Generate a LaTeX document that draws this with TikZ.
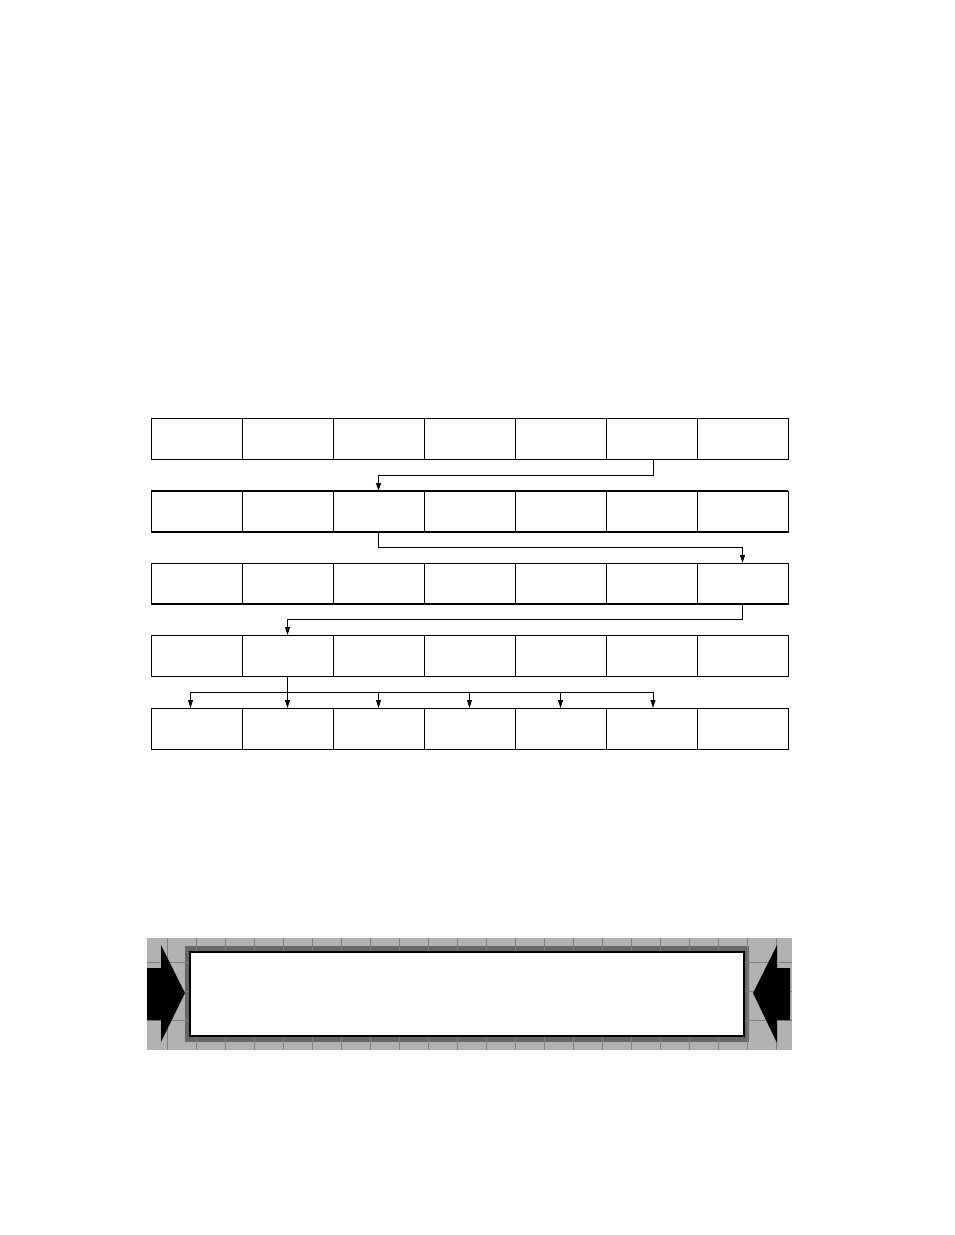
\documentclass[tikz,border=0pt]{standalone}
\usetikzlibrary{arrows.meta}
\begin{document}
\begin{tikzpicture}[x=1pt,y=-1pt,
  cell/.style={draw,line width=1pt,minimum width=91pt,minimum height=41pt,inner sep=0pt,outer sep=0pt},
  conn/.style={line width=0.9pt,-{Triangle[length=8pt,width=5pt]}},
  link/.style={line width=0.9pt},
  heavyedge/.style={line width=2.2pt},
  lighttex/.style={fill=black!30},
  darktex/.style={fill=black!60},
  gridline/.style={draw=black!50,line width=0.8pt},
  display/.style={draw,fill=white,line width=2.2pt,minimum width=554pt,minimum height=84pt,inner sep=0pt},
  bigarrow/.style={fill=black}]
\useasboundingbox (0,0) rectangle (954,1235);
% rows of cells
\foreach \r/\y in {1/438.5,2/511.5,3/583.5,4/655.5,5/728.5}
  \foreach \c in {1,...,7}
    \node[cell] (r\r-\c) at ({151+91*(\c-1)+45.5},\y) {};
% heavier edges
\draw[heavyedge] (r2-1.north west) -- (r2-7.north east);
\draw[heavyedge] (r2-1.south west) -- (r2-7.south east);
\draw[heavyedge] (r3-1.south west) -- (r3-7.south east);
% connectors
\draw[conn] ([xshift=1.5pt]r1-6.south) -- ++(0,16) -| (r2-3.north);
\draw[conn] (r2-3.south) -- ++(0,15) -| (r3-7.north);
\draw[conn] (r3-7.south) -- ++(0,15) -| (r4-2.north);
\path (r4-2.south) ++(0,16) coordinate (fork);
\draw[link] (r4-2.south) -- (fork);
\foreach \c in {2,...,5}
  \draw[conn] (fork) -| (r5-\c.north);
\draw[conn] (fork) -| ([xshift=1.5pt]r5-6.north);
\draw[conn] (fork) -| ([xshift=-6pt]r5-1.north);
% bottom panel
\fill[lighttex] (147,938) rectangle (792,1050);
\fill[darktex] (185,946) rectangle (749,1042);
\foreach \x in {167,196,...,776}
  \draw[gridline] (\x,938) -- (\x,1050);
\foreach \y in {962,991,1020}
  \draw[gridline] (147,\y) -- (792,\y);
\node[display] (screen) at (467,994) {};
\fill[bigarrow] (147,968) -- (161,968) -- (161,945) -- (185,993) -- (161,1042) -- (161,1020) -- (147,1020) -- cycle;
\fill[bigarrow] (790,968) -- (777,968) -- (777,945) -- (753,993) -- (777,1043) -- (777,1020) -- (790,1020) -- cycle;
\end{tikzpicture}
\end{document}
